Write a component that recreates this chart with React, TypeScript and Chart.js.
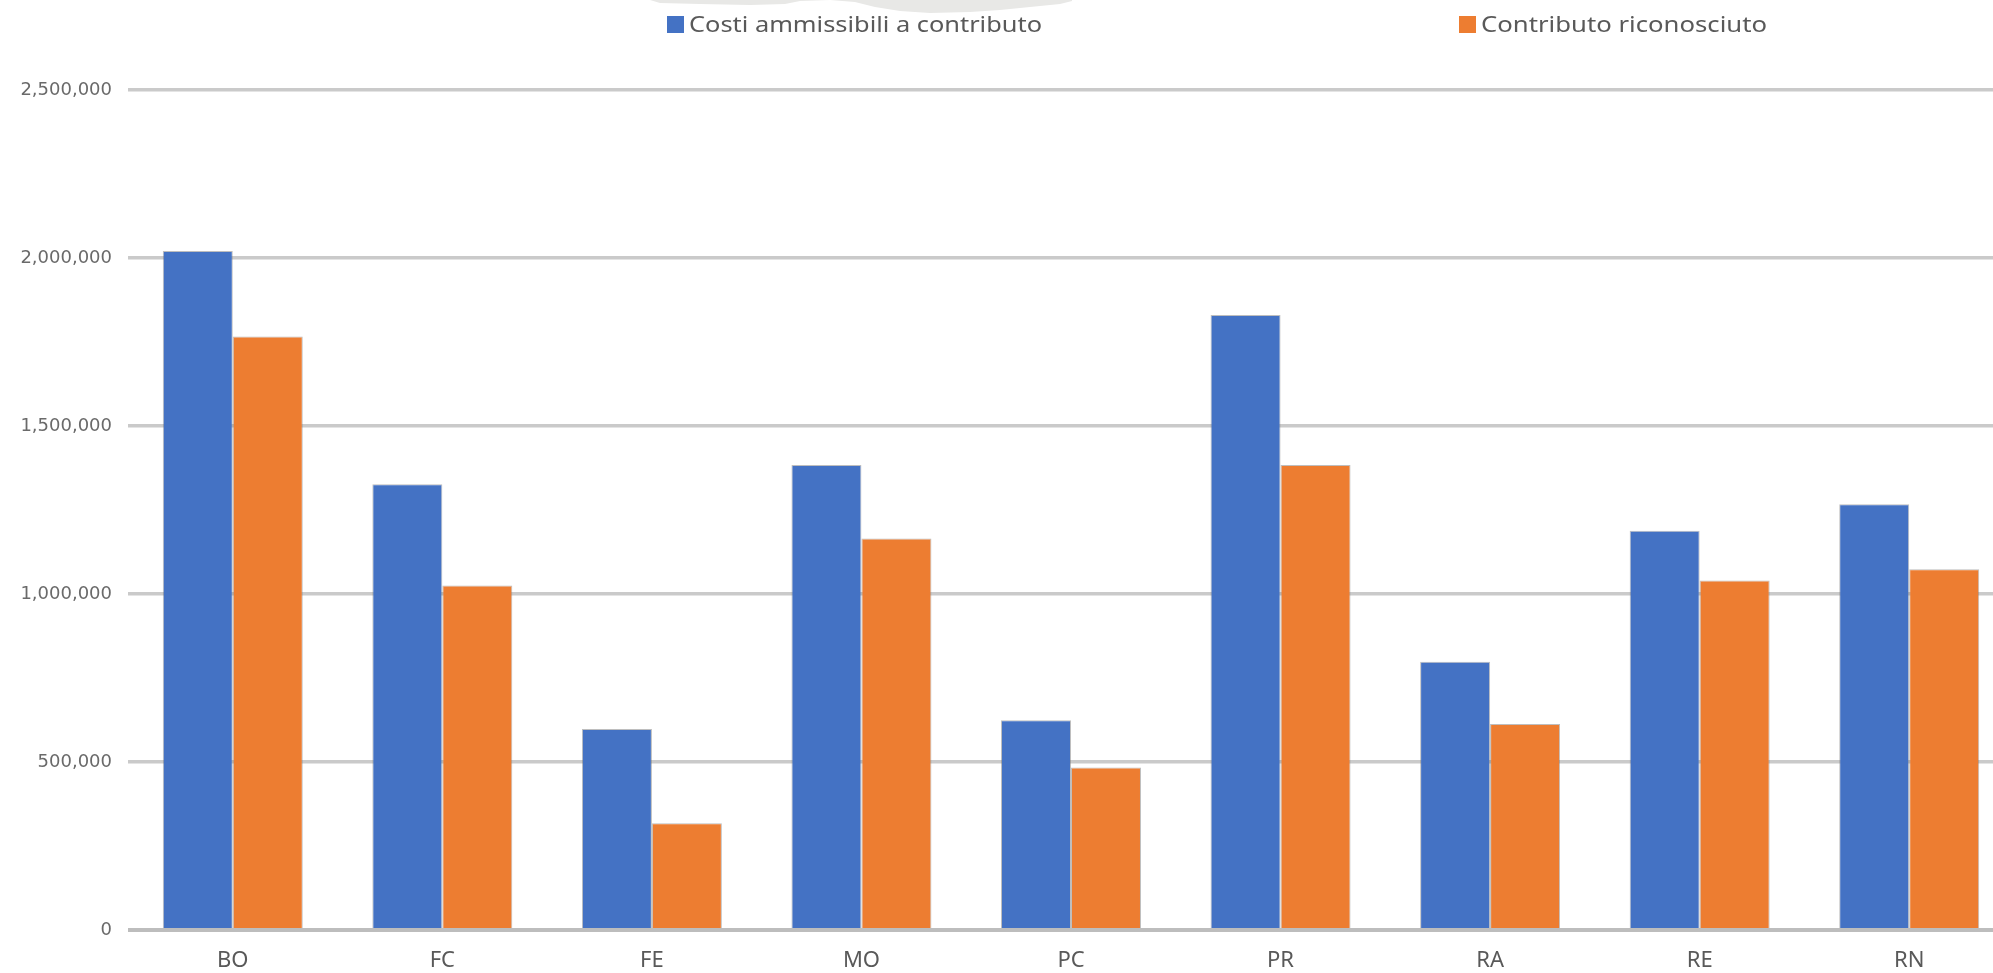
import React, { useEffect, useRef } from "react";
import { Chart, registerables } from "chart.js";

Chart.register(...registerables);

const categories = ["BO", "FC", "FE", "MO", "PC", "PR", "RA", "RE", "RN"];
const costiAmmissibili = [2021000, 1327000, 598000, 1384000, 624000, 1830000, 798000, 1188000, 1267000];
const contributoRiconosciuto = [1766000, 1025000, 318000, 1165000, 484000, 1384000, 613000, 1040000, 1074000];
const seriesLabels = ["Costi ammissibili a contributo", "Contributo riconosciuto"];
const yTickValues = [0, 500000, 1000000, 1500000, 2000000, 2500000];

const BLUE = "#4472C4";
const ORANGE = "#ED7D31";

const legendPlugin = {
  id: "customLegend",
  afterDraw(chart: any) {
    const ctx = chart.ctx;
    ctx.save();
    // faint gray blob at the top (artifact in the reference)
    ctx.fillStyle = "#e8e8e6";
    ctx.beginPath();
    const pts = [
      [650, 0], [660, 3], [700, 4], [750, 5], [785, 4], [800, 1], [830, 0],
      [855, 2], [875, 7], [900, 11], [930, 13], [970, 12], [1000, 10], [1030, 7],
      [1060, 4], [1072, 1], [1072, 0],
    ];
    ctx.moveTo(pts[0][0], pts[0][1]);
    for (const p of pts) ctx.lineTo(p[0], p[1]);
    ctx.closePath();
    ctx.fill();

    const items = chart.data.datasets;
    const boxX = [667, 1459];
    const textEnd = [1042, 1767];
    const y = 25;
    ctx.font = "22px 'Noto Sans'";
    ctx.textBaseline = "middle";
    ctx.textAlign = "left";
    items.forEach((ds: any, i: number) => {
      ctx.fillStyle = ds.backgroundColor;
      ctx.fillRect(boxX[i], y - 9, 17, 17);
      ctx.fillStyle = "#595959";
      const start = boxX[i] + 22;
      const w = ctx.measureText(ds.label).width;
      const sx = (textEnd[i] - start) / w;
      ctx.save();
      ctx.translate(start, y + 1);
      ctx.scale(sx, 1);
      ctx.fillText(ds.label, 0, 0);
      ctx.restore();
    });
    ctx.restore();
  },
};

export default function App() {
  const ref = useRef<HTMLCanvasElement | null>(null);
  useEffect(() => {
    if (!ref.current) return;
    const chart = new Chart(ref.current, {
      type: "bar",
      data: {
        labels: categories,
        datasets: [
          {
            label: seriesLabels[0],
            data: costiAmmissibili,
            backgroundColor: BLUE,
            borderColor: "rgba(110,110,110,0.45)",
            borderWidth: 1,
            categoryPercentage: 0.668,
            barPercentage: 1.0,
          },
          {
            label: seriesLabels[1],
            data: contributoRiconosciuto,
            backgroundColor: ORANGE,
            borderColor: "rgba(110,110,110,0.45)",
            borderWidth: 1,
            categoryPercentage: 0.668,
            barPercentage: 1.0,
          },
        ],
      },
      options: {
        animation: false,
        responsive: false,
        layout: { padding: { top: 90, right: 16, left: 0, bottom: 0 } },
        plugins: {
          legend: { display: false },
          tooltip: { enabled: false },
        },
        scales: {
          x: {
            grid: { display: false, drawTicks: false },
            border: { display: false },
            ticks: {
              color: "#595959",
              font: { family: "'Noto Sans'", size: 22 },
              padding: 18,
            },
            afterFit(scale: any) {
              scale.height = 43;
            },
          },
          y: {
            min: 0,
            max: 2500000,
            afterBuildTicks(scale: any) {
              scale.ticks = yTickValues.map((v) => ({ value: v }));
            },
            grid: {
              drawTicks: false,
              color: (c: any) => (c.tick && c.tick.value === 0 ? "#bdbdbd" : "#cacaca"),
              lineWidth: (c: any) => (c.tick && c.tick.value === 0 ? 4 : 3.5),
            },
            border: { display: false },
            ticks: {
              color: "#6a6a6a",
              font: { family: "'DejaVu Sans'", size: 18 },
              padding: 16,
              callback: (v: any) => Number(v).toLocaleString("en-US"),
            },
            afterFit(scale: any) {
              scale.width = 128;
            },
          },
        },
      },
      plugins: [legendPlugin],
    });
    return () => chart.destroy();
  }, []);

  return (
    <div
      style={{
        position: "fixed",
        left: 0,
        top: 0,
        width: 1993,
        height: 973,
        overflow: "hidden",
        background: "#ffffff",
      }}
    >
      <canvas ref={ref} width={2030} height={973} style={{ display: "block" }} />
    </div>
  );
}
